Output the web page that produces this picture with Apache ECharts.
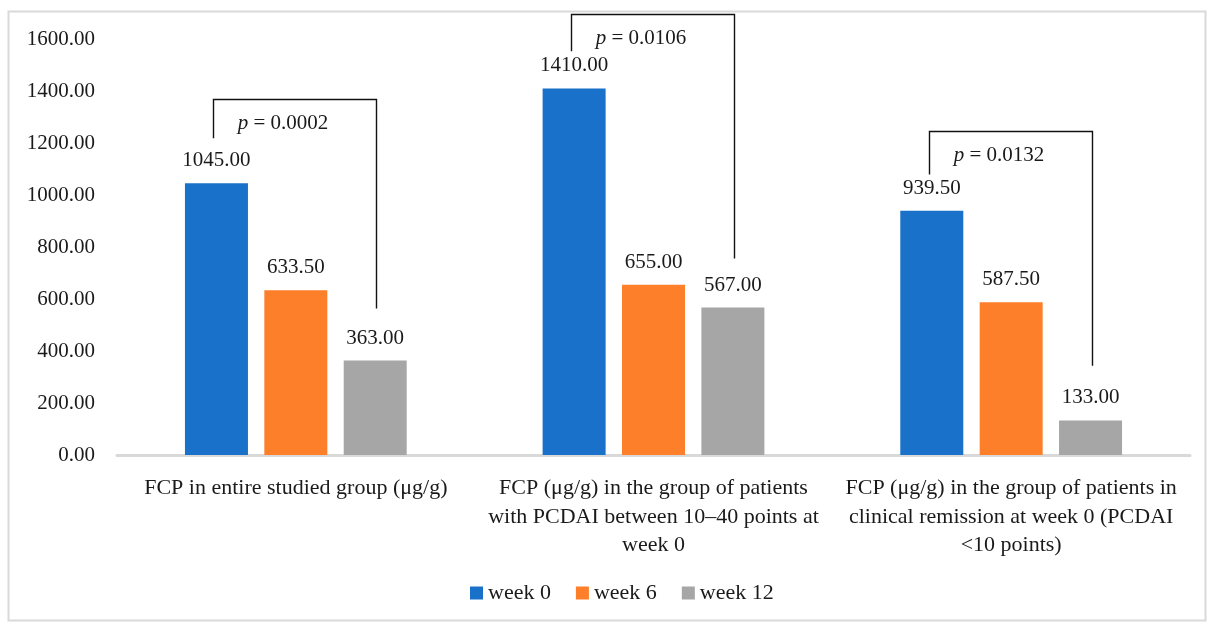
<!DOCTYPE html>
<html>
<head>
<meta charset="utf-8">
<script src="https://cdn.jsdelivr.net/npm/echarts@6/dist/echarts.min.js"></script>
<style>
  html, body { margin: 0; padding: 0; background: #fff; }
  #chart { width: 1212px; height: 626px; }
</style>
</head>
<body>
<div id="chart"></div>
<script>
  // data
  var categories = [
    'FCP in entire studied group (\u03bcg/g)',
    'FCP (\u03bcg/g) in the group of patients\nwith PCDAI between 10\u201340 points at\nweek 0',
    'FCP (\u03bcg/g) in the group of patients in\nclinical remission at week 0 (PCDAI\n<10 points)'
  ];
  var seriesNames = ['week 0', 'week 6', 'week 12'];
  var week0 = [1045.00, 1410.00, 939.50];
  var week6 = [633.50, 655.00, 587.50];
  var week12 = [363.00, 567.00, 133.00];
  // brackets: [category, top value, left leg bottom, right leg bottom]
  var brackets = [
    [0, 1369, 1218, 563],
    [1, 1696, 1553, 756],
    [2, 1245, 1079, 343]
  ];
  var pLabels = ['0.0002', '0.0106', '0.0132'];

  var colors = ['#1971c9', '#fe7f2a', '#a6a6a6'];
  var font = 'Liberation Serif';
  var barW = 63;
  var gapRatio = 0.26;

  var chart = echarts.init(document.getElementById('chart'));

  function barSeries(name, data, color) {
    return {
      name: name,
      type: 'bar',
      data: data,
      barWidth: barW,
      barGap: (gapRatio * 100) + '%',
      itemStyle: { color: color },
      label: {
        show: true,
        position: 'top',
        distance: 12,
        fontFamily: font,
        fontSize: 21,
        color: '#1a1a1a',
        formatter: function (p) { return p.value.toFixed(2); }
      }
    };
  }

  var option = {
    animation: false,
    backgroundColor: '#fff',
    graphic: [{
      type: 'rect',
      shape: { x: 8.5, y: 11.5, width: 1197, height: 609 },
      style: { fill: 'none', stroke: '#d9d9d9', lineWidth: 2 },
      silent: true
    }],
    grid: { left: 117, right: 22, top: 39, bottom: 171 },
    legend: {
      data: seriesNames,
      bottom: 17,
      left: 465,
      itemWidth: 13,
      itemHeight: 13,
      itemGap: 25,
      icon: 'rect',
      textStyle: { fontFamily: font, fontSize: 22, color: '#1a1a1a' }
    },
    xAxis: {
      type: 'category',
      data: categories,
      axisLine: { lineStyle: { color: '#d9d9d9', width: 3 } },
      axisTick: { show: false },
      axisLabel: {
        interval: 0,
        margin: 19,
        fontFamily: font,
        fontSize: 22,
        lineHeight: 28.5,
        color: '#1a1a1a',
        align: 'center'
      }
    },
    yAxis: {
      type: 'value',
      min: 0,
      max: 1600,
      interval: 200,
      axisLine: { show: false },
      axisTick: { show: false },
      splitLine: { show: false },
      axisLabel: {
        margin: 22,
        fontFamily: font,
        fontSize: 21,
        color: '#1a1a1a',
        formatter: function (v) { return v.toFixed(2); }
      }
    },
    series: [
      barSeries(seriesNames[0], week0, colors[0]),
      barSeries(seriesNames[1], week6, colors[1]),
      barSeries(seriesNames[2], week12, colors[2]),
      {
        type: 'custom',
        clip: false,
        silent: true,
        data: brackets,
        renderItem: function (params, api) {
          var c = api.value(0);
          var top = api.coord([c, api.value(1)]);
          var lb = api.coord([c, api.value(2)]);
          var rb = api.coord([c, api.value(3)]);
          var off = barW * (1 + gapRatio);
          var xl = Math.round(top[0] - off - 3) + 0.5;
          var xr = Math.round(top[0] + off + 1) + 0.5;
          var yt = Math.round(top[1]) + 0.5;
          return {
            type: 'group',
            children: [{
              type: 'polyline',
              shape: { points: [[xl, lb[1]], [xl, yt], [xr, yt], [xr, rb[1]]] },
              style: { stroke: '#111', lineWidth: 1.4, fill: null }
            }, {
              type: 'text',
              style: {
                x: (xl + xr) / 2 - 12,
                y: yt + 24,
                text: '{i|p} = ' + pLabels[params.dataIndex],
                align: 'center',
                verticalAlign: 'middle',
                fontFamily: font,
                fontSize: 21,
                fill: '#1a1a1a',
                rich: { i: { fontStyle: 'italic', fontFamily: font, fontSize: 21 } }
              }
            }]
          };
        }
      }
    ]
  };

  chart.setOption(option);
</script>
</body>
</html>
